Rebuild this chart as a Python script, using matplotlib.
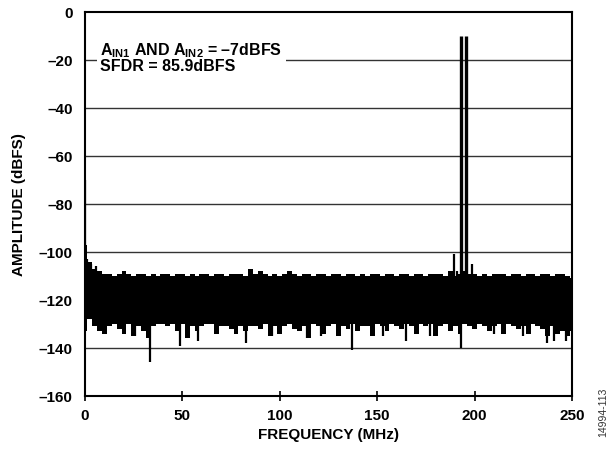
import matplotlib
matplotlib.use("Agg")
import matplotlib.pyplot as plt
import numpy as np

plt.rcParams['font.family'] = ['Liberation Sans', 'DejaVu Sans']
plt.rcParams['font.weight'] = 'bold'
plt.rcParams['mathtext.fontset'] = 'custom'
plt.rcParams['mathtext.rm'] = 'Liberation Sans:bold'
plt.rcParams['mathtext.bf'] = 'Liberation Sans:bold'
plt.rcParams['mathtext.it'] = 'Liberation Sans:bold'

# ---- data ----
# noise-floor envelope, sampled every 2.5 MHz from 0 to 250 MHz
env_freq = list(np.arange(0, 250.01, 2.5))
noise_upper = [
    -97, -104, -107, -108, -109, -109, -110, -109, -108, -109,
    -110, -109, -109, -110, -109, -110, -109, -109, -110, -109,
    -109, -110, -109, -110, -109, -109, -110, -109, -109, -110,
    -109, -109, -109, -110, -107, -109, -108, -109, -110, -109,
    -110, -109, -108, -109, -110, -109, -109, -110, -109, -109,
    -110, -109, -109, -110, -109, -109, -110, -109, -110, -109,
    -109, -110, -109, -109, -110, -109, -109, -110, -109, -109,
    -110, -109, -109, -109, -110, -108, -110, -109, -108, -109,
    -109, -110, -109, -110, -109, -109, -109, -110, -109, -109,
    -110, -109, -109, -110, -109, -109, -110, -109, -109, -110,
    -111]
noise_lower = [
    -133, -128, -131, -133, -134, -131, -130, -132, -134, -130,
    -135, -131, -133, -136, -131, -130, -130, -131, -130, -133,
    -130, -136, -131, -133, -131, -130, -130, -134, -131, -131,
    -132, -134, -131, -133, -131, -131, -132, -130, -135, -131,
    -134, -131, -130, -132, -133, -131, -136, -130, -131, -134,
    -131, -130, -135, -131, -132, -130, -133, -131, -131, -135,
    -130, -131, -133, -130, -131, -132, -130, -131, -134, -130,
    -131, -130, -135, -131, -130, -133, -131, -134, -130, -131,
    -132, -130, -131, -133, -131, -130, -134, -130, -131, -132,
    -131, -134, -130, -131, -132, -135, -131, -134, -133, -135,
    -133]
# deep single-bin dips below the noise floor
dip_freq = [33.3, 48.8, 58.0, 82.8, 96.0, 20.0, 25.5, 114.0, 121.0,
            137.0, 153.0, 165.0, 177.0, 193.0, 210.0, 225.0, 237.0, 241.0, 247.0]
dip_level = [-146, -139, -137, -138, -135, -134, -135, -136, -135,
             -141, -135, -137, -135, -140, -134, -135, -138, -137, -137]
# spurs above the noise floor
spur_freq = [0.0, 1.0, 3.0, 5.5, 189.6, 191.0, 198.8]
spur_level = [-70, -103, -105, -106, -101, -108, -105]
# the two input tones
tone_freq = [192.8, 195.7]
tone_level = [-10, -10]

x_ticks = [0, 50, 100, 150, 200, 250]
y_ticks = [0, -20, -40, -60, -80, -100, -120, -140, -160]

# ---- figure ----
fig = plt.figure(figsize=(6.15, 4.52), dpi=100)
ax = fig.add_axes([85/615, 55/452, 487/615, 384/452])

ax.fill_between(env_freq, noise_lower, noise_upper, step='mid',
                color='black', linewidth=0, zorder=3)
ax.vlines(dip_freq, -125, dip_level, color='black', linewidth=1.6, zorder=3)
ax.vlines(spur_freq, -115, spur_level, color='black', linewidth=1.6, zorder=3)
ax.vlines(tone_freq, -120, tone_level, color='black', linewidth=2.4, zorder=3)

ax.set_xlim(0, 250)
ax.set_ylim(-160, 0)
ax.set_xticks(x_ticks)
ax.set_yticks(y_ticks)
ax.set_xticklabels([str(v) for v in x_ticks])
ax.set_yticklabels([str(v).replace('-', '\u2013') for v in y_ticks])

for v in y_ticks[1:-1]:
    ax.axhline(v, color='#333333', linewidth=1.0, zorder=1)

for s in ax.spines.values():
    s.set_linewidth(1.5)
    s.set_color('black')

ax.tick_params(axis='x', direction='inout', length=7, width=1.2,
               labelsize=11, pad=5)
ax.tick_params(axis='y', length=0, labelsize=11, pad=9)

ax.set_xlabel('FREQUENCY (MHz)', fontsize=11, fontweight='bold', labelpad=4)
ax.set_ylabel('AMPLITUDE (dBFS)', fontsize=11, fontweight='bold', labelpad=9)

ax.text(7.8, -11.8,
        'A$_{\\mathrm{IN1}}$ AND A$_{\\mathrm{IN2}}$ = \u20137dBFS\nSFDR = 85.9dBFS',
        fontsize=11.5, fontweight='bold', va='top', ha='left', linespacing=0.95,
        bbox=dict(facecolor='white', edgecolor='none', pad=2.5), zorder=4)

fig.text(603/615, 1 - 412/452, '14994-113', rotation=90, fontsize=7.5,
         fontweight='normal', color='#333333', ha='center', va='center')

fig.savefig('out.png', dpi=100)
